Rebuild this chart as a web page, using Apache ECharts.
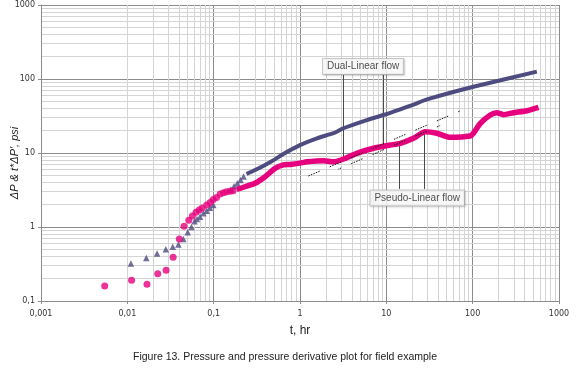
<!DOCTYPE html>
<html>
<head>
<meta charset="utf-8">
<script src="https://cdn.jsdelivr.net/npm/echarts@6/dist/echarts.min.js"></script>
<style>
  html, body { margin: 0; padding: 0; background: #fff; }
  #chart { width: 580px; height: 378px; }
</style>
</head>
<body>
<div id="chart"></div>
<script>
// tick labels (comma decimals, as in the figure)
const xTickLabels = ['0,001', '0,01', '0,1', '1', '10', '100', '1000'];
const yTickLabels = ['0,1', '1', '10', '100', '1000'];

// pressure change, dP (triangles) - early single points, then the dense run
const dpPoints = [
  [0.0110, 0.32], [0.0166, 0.38], [0.0221, 0.44], [0.0279, 0.50], [0.0336, 0.54],
  [0.039, 0.58], [0.0446, 0.69], [0.050, 0.85], [0.0553, 1.0], [0.060, 1.2],
  [0.064, 1.28], [0.0695, 1.38], [0.076, 1.53], [0.083, 1.66], [0.0907, 1.82],
  [0.099, 1.98], [0.158, 3.2], [0.172, 3.55], [0.188, 3.9], [0.205, 4.3], [0.222, 4.8]
];
const dpDense = [
  [0.24, 5.2], [0.302, 5.89], [0.394, 6.9], [0.514, 8.2], [0.64, 9.7], [1.0, 12.8],
  [1.57, 15.8], [2.44, 18.5], [3.18, 21.6], [5.94, 27.9], [9.25, 32.6], [14.5, 38.9],
  [20.6, 45], [29.5, 53], [102, 78.7], [554, 125.6]
];

// pressure derivative, t*dP' (circles)
const derivPoints = [
  [0.00547, 0.16], [0.0112, 0.19], [0.0169, 0.168], [0.0225, 0.234], [0.0281, 0.26],
  [0.0339, 0.39], [0.040, 0.69], [0.0454, 1.02], [0.0515, 1.23], [0.0567, 1.41],
  [0.0625, 1.58], [0.068, 1.7], [0.0735, 1.8], [0.083, 1.98], [0.091, 2.15],
  [0.099, 2.35], [0.108, 2.5], [0.119, 2.8], [0.13, 2.9], [0.141, 3.0],
  [0.155, 3.05], [0.168, 3.1]
];
const derivDense = [
  [0.185, 3.23], [0.231, 3.5], [0.302, 3.9], [0.394, 4.78], [0.514, 6.2], [0.64, 6.9],
  [0.77, 7.0], [1.0, 7.3], [1.2, 7.6], [1.87, 7.87], [2.44, 7.6], [3.2, 8.3],
  [4.55, 9.9], [7.1, 11.6], [11.1, 12.8], [14.5, 13.5], [20.6, 15.8], [28.1, 19.4],
  [38.5, 18.5], [54.8, 16.3], [93.6, 17], [102, 18.5], [122, 25], [160, 32.6],
  [191, 35], [228, 33], [297, 35], [425, 37.3], [579, 41.5]
];

// half-slope guide lines (dotted)
const halfSlopeUpper = [[1.25, 4.89], [71.6, 37]];
const halfSlopeLower = [[2.76, 6.03], [42, 23.5]];

// flow regime notes and the pointer lines under them
const notes = [
  { name: 'Dual-Linear flow', value: [5.38, 147] },
  { name: 'Pseudo-Linear flow', value: [22.8, 2.47] }
];
const pointers = [
  [[3.18, 113], [3.18, 8.55]],
  [[9.1, 113], [9.1, 12.4]],
  [[14.1, 3.27], [14.1, 13.3]],
  [[27.6, 3.27], [27.6, 19.2]]
];

// minor grid (2..9 in each decade)
const minorX = [];
for (let e = -3; e < 3; e++) for (let k = 2; k <= 9; k++) minorX.push(+(k * Math.pow(10, e)).toPrecision(3));
const minorY = [];
for (let e = -1; e < 3; e++) for (let k = 2; k <= 9; k++) minorY.push(+(k * Math.pow(10, e)).toPrecision(3));

const labelFont = 'DejaVu Sans';
const majorColor = '#8c8c8c';
const dotDash = [1.5, 1.2, 1.5, 1.2, 1.5, 1.2, 1.5, 1.2, 1.5, 11];

var myChart = echarts.init(document.getElementById('chart'));
const option = {
  animation: false,
  grid: { left: 41, right: 21, top: 5, bottom: 77, outerBoundsMode: 'none' },
  xAxis: {
    type: 'log', logBase: 10, min: 0.001, max: 1000,
    name: 't, hr', nameLocation: 'middle', nameGap: 24,
    nameTextStyle: { fontFamily: 'Liberation Sans', fontSize: 12, color: '#222' },
    axisLine: { lineStyle: { color: majorColor } },
    axisTick: { show: true, length: 3, lineStyle: { color: majorColor } },
    axisLabel: {
      margin: 9, fontFamily: labelFont, fontSize: 8, color: '#333',
      formatter: v => xTickLabels[Math.round(Math.log10(v)) + 3]
    },
    splitLine: { show: true, lineStyle: { color: majorColor, width: 1 } }
  },
  yAxis: {
    type: 'log', logBase: 10, min: 0.1, max: 1000,
    axisLine: { show: true, lineStyle: { color: majorColor } },
    axisTick: { show: true, length: 3, lineStyle: { color: majorColor } },
    axisLabel: {
      margin: 6, fontFamily: labelFont, fontSize: 8, color: '#333',
      formatter: v => yTickLabels[Math.round(Math.log10(v)) + 1]
    },
    splitLine: { show: true, lineStyle: { color: majorColor, width: 1 } }
  },
  graphic: [
    {
      type: 'text', x: 15, y: 163, rotation: Math.PI / 2,
      style: {
        text: "\u0394P & t*\u0394P', psi", fontFamily: 'Liberation Sans', fontStyle: 'italic',
        fontSize: 11, fill: '#222', align: 'center', verticalAlign: 'middle'
      }
    },
    {
      type: 'text', x: 285, y: 357,
      style: {
        text: 'Figure 13. Pressure and pressure derivative plot for field example',
        fontFamily: 'Liberation Sans', fontSize: 10.5, fill: '#222',
        align: 'center', verticalAlign: 'middle'
      }
    }
  ],
  series: [
    {
      name: 'minor grid', type: 'line', data: [], z: 0, silent: true,
      markLine: {
        z: 0, silent: true, symbol: ['none', 'none'], label: { show: false },
        lineStyle: { color: '#d4d4d4', type: 'solid', width: 1 },
        data: minorX.map(v => ({ xAxis: v })).concat(minorY.map(v => ({ yAxis: v })))
      }
    },
    {
      name: 'pointers', type: 'line', data: [], z: 2, silent: true,
      markLine: {
        z: 2, silent: true, symbol: ['none', 'none'], label: { show: false },
        lineStyle: { color: '#4a4a4a', type: 'solid', width: 1 },
        data: pointers.map(p => [{ coord: p[0] }, { coord: p[1] }])
      }
    },
    {
      name: 'dP', type: 'scatter', data: dpPoints, symbol: 'triangle', symbolSize: 6.5,
      itemStyle: { color: '#4d4b7f' }, z: 3
    },
    {
      name: 'dP dense', type: 'line', data: dpDense, showSymbol: false, smooth: 0.2,
      lineStyle: { color: '#4d4b7f', width: 4 }, z: 3
    },
    {
      name: 'derivative', type: 'scatter', data: derivPoints, symbol: 'circle', symbolSize: 7,
      itemStyle: { color: '#e6007e' }, z: 4
    },
    {
      name: 'derivative dense', type: 'line', data: derivDense, showSymbol: false, smooth: 0.2,
      lineStyle: { color: '#e6007e', width: 5.5 }, z: 4
    },
    {
      name: 'half slope 1', type: 'line', data: halfSlopeUpper, showSymbol: false, z: 5,
      lineStyle: { color: '#111', width: 1, type: dotDash }
    },
    {
      name: 'half slope 2', type: 'line', data: halfSlopeLower, showSymbol: false, z: 5,
      lineStyle: { color: '#111', width: 1, type: dotDash, dashOffset: 9 }
    },
    {
      name: 'notes', type: 'scatter', data: notes, symbolSize: 0, z: 6,
      label: {
        show: true, position: 'inside', formatter: '{b}',
        fontFamily: 'Liberation Sans', fontSize: 10, color: '#222',
        backgroundColor: '#fff', borderColor: '#bdbdbd', borderWidth: 1,
        padding: [3, 4, 2, 4],
        shadowColor: 'rgba(0,0,0,0.18)', shadowBlur: 2, shadowOffsetX: 1, shadowOffsetY: 1
      }
    }
  ]
};
option && myChart.setOption(option);
</script>
</body>
</html>
